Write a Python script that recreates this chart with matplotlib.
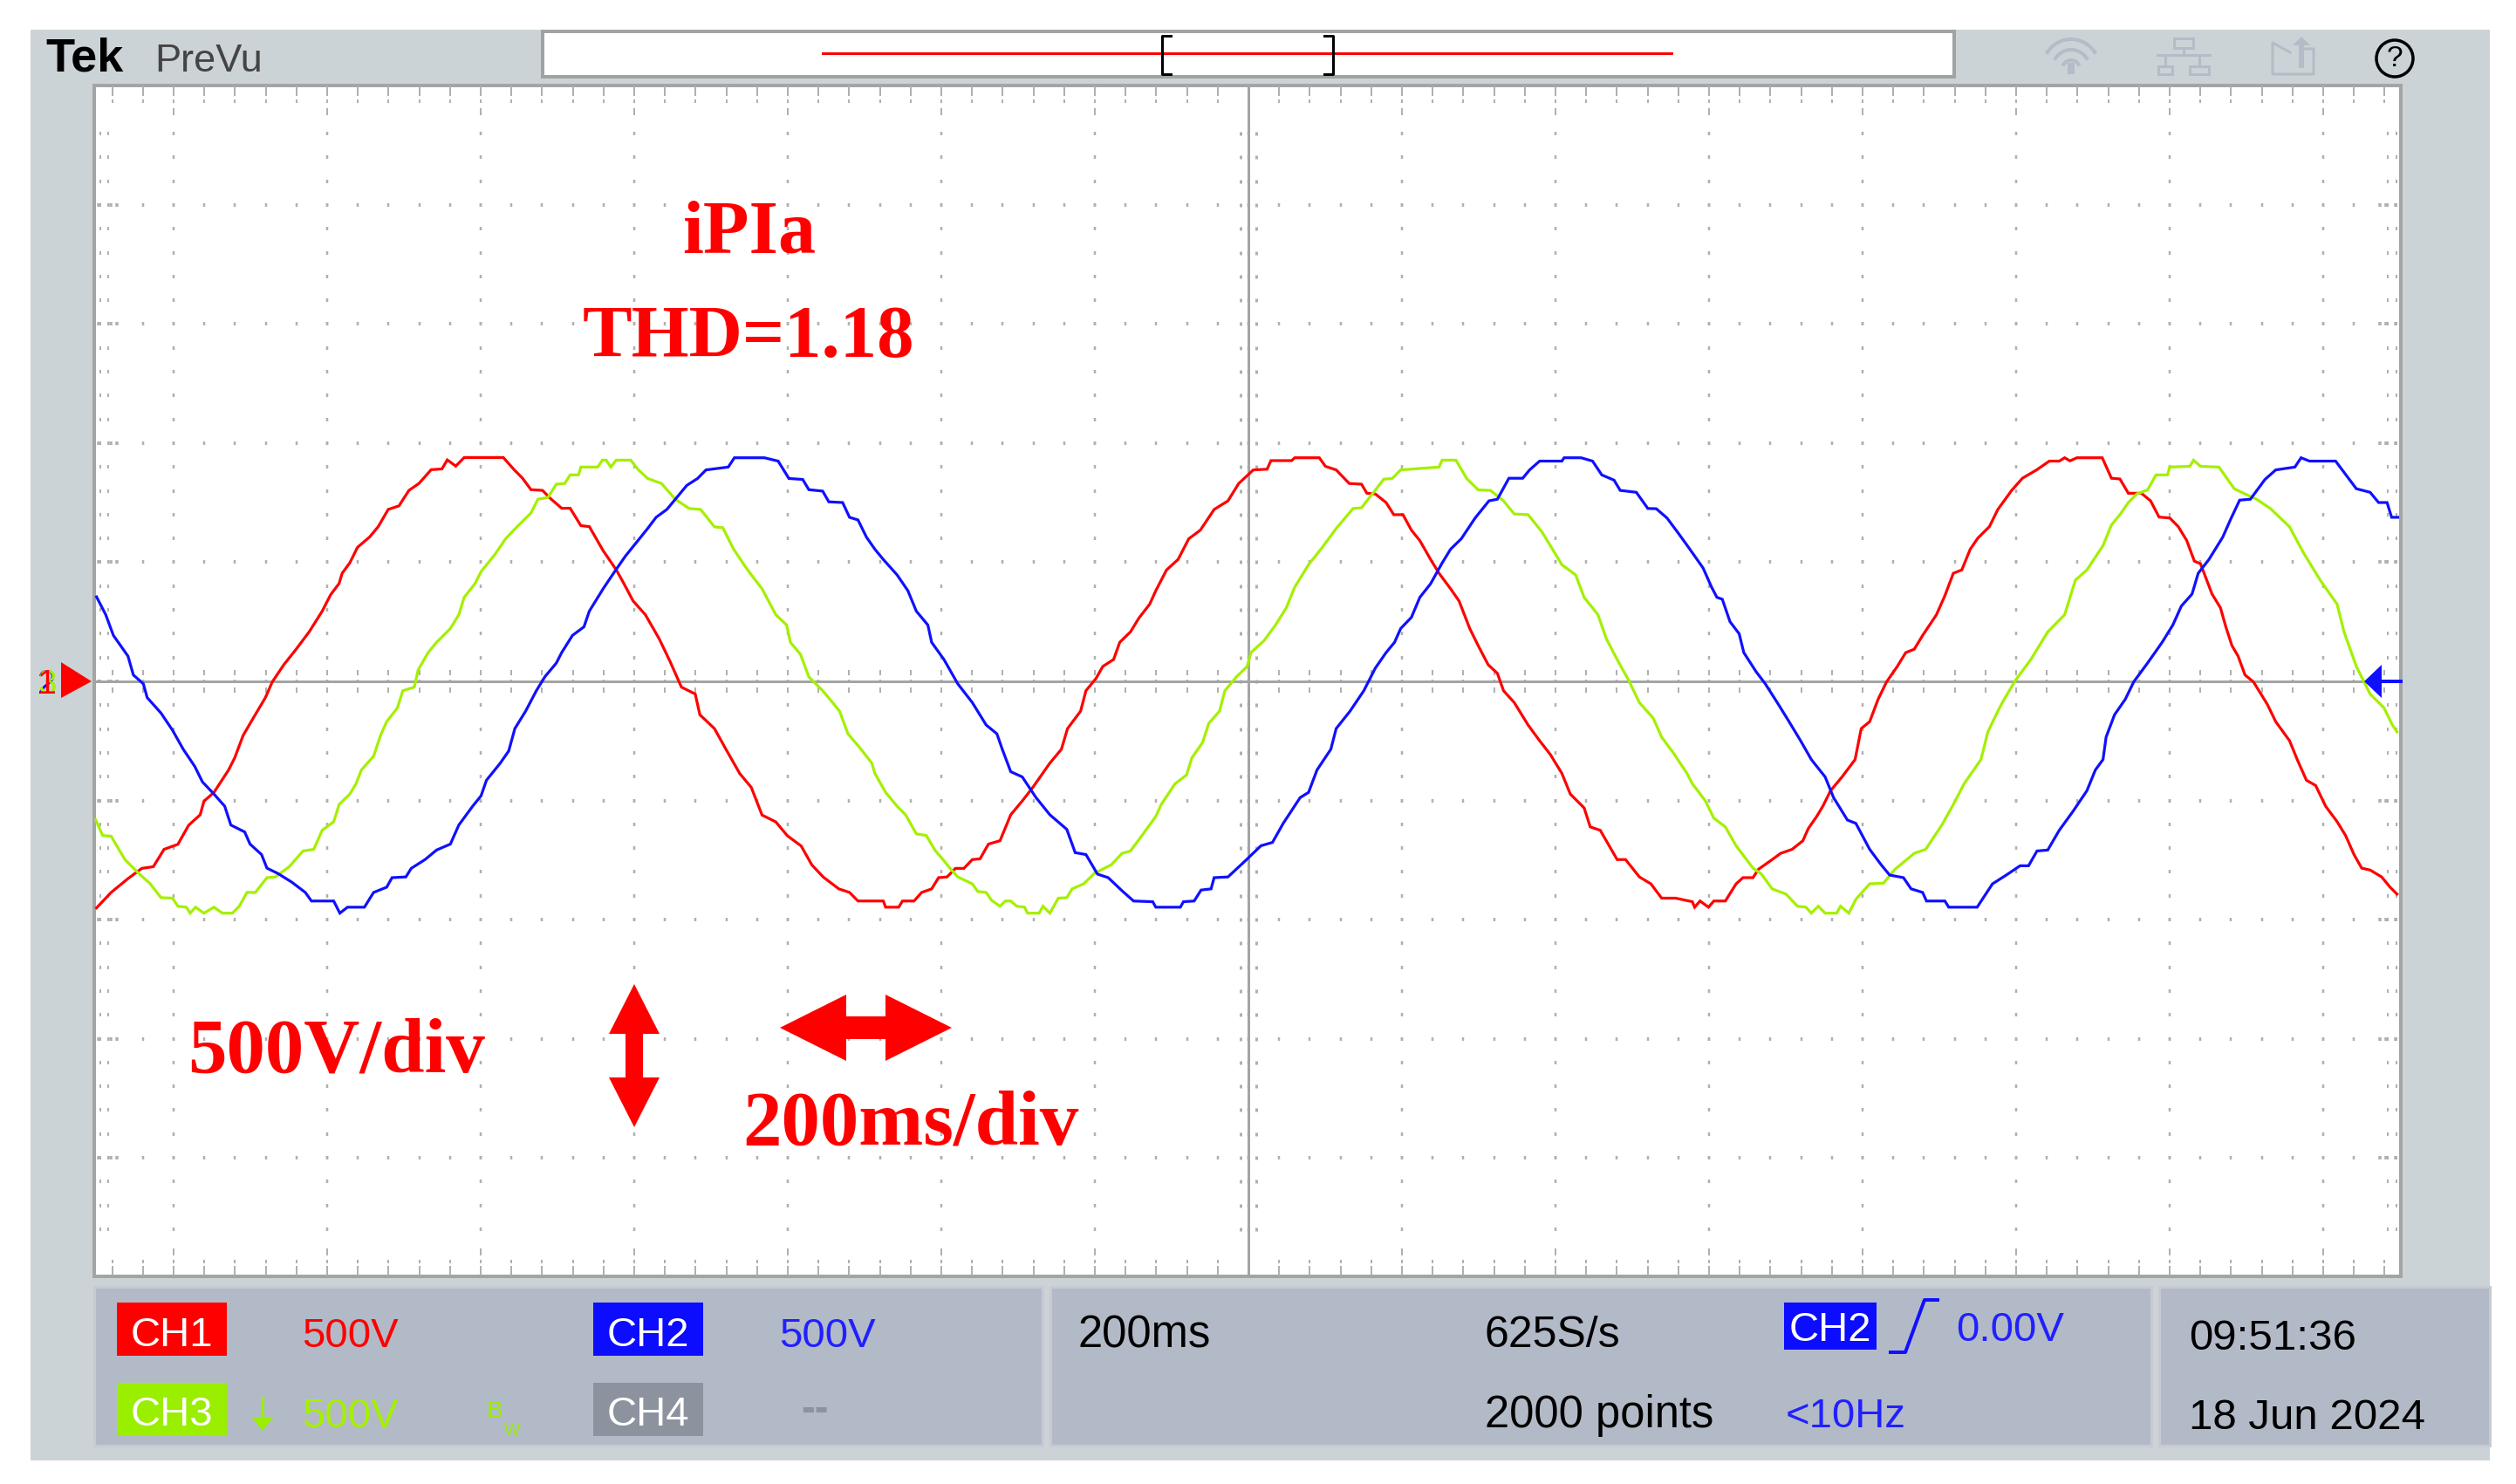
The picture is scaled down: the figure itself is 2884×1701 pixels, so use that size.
"""Tek oscilloscope screen: three phase iPIa traces with the instrument chrome."""

import matplotlib

matplotlib.use("Agg")
import matplotlib.pyplot as plt
import numpy as np
from matplotlib.patches import Circle, Polygon, Rectangle

W, H = 2884, 1701
OUT = "out.png"

# traces: time in ms from screen centre, level in volts
RED_T = [-1500, -1481, -1459, -1441, -1426, -1412, -1394, -1380, -1365, -1360, -1347, -1328, -1320, -1309, -1296, -1280,
         -1271, -1256, -1240, -1223, -1206, -1195, -1184, -1180, -1170, -1160, -1144, -1133, -1120, -1106, -1093, -1080,
         -1064, -1050, -1043, -1032, -1021, -970, -956, -945, -934, -919, -908, -894, -883, -869, -858, -840, -823, -813,
         -801, -785, -767, -753, -738, -720, -714, -695, -680, -662, -647, -633, -615, -600, -582, -568, -553, -533, -519,
         -508, -475, -472, -455, -450, -435, -425, -412, -403, -392, -381, -370, -359, -349, -338, -323, -309, -294, -280,
         -258, -243, -235, -218, -211, -198, -189, -175, -167, -153, -142, -128, -120, -106, -91, -77, -62, -44, -26, -12,
         7, 25, 30, 57, 61, 93, 101, 115, 132, 148, 155, 166, 180, 190, 202, 213, 224, 238, 249, 264, 275, 289, 300, 313,
         325, 333, 347, 365, 380, 394, 409, 420, 438, 446, 459, 481, 492, 510, 525, 539, 557, 579, 582, 589, 600, 607, 622,
         636, 645, 658, 665, 683, 694, 709, 723, 730, 741, 749, 759, 774, 791, 799, 810, 821, 832, 846, 857, 868, 879, 897,
         908, 919, 930, 941, 951, 966, 977, 995, 1009, 1028, 1044, 1057, 1064, 1071, 1080, 1113, 1125, 1136, 1147, 1164,
         1176, 1187, 1201, 1212, 1223, 1233, 1241, 1256, 1267, 1274, 1282, 1290, 1299, 1310, 1328, 1339, 1357, 1367, 1379,
         1391, 1404, 1419, 1430, 1441, 1451, 1462, 1477, 1488, 1497]
RED_V = [-953, -888, -830, -787, -780, -707, -686, -606, -562, -505, -468, -374, -323, -229, -157, -70,
         -4, 68, 133, 206, 293, 362, 409, 452, 496, 561, 605, 648, 720, 735, 800, 829,
         887, 890, 928, 902, 938, 938, 887, 851, 803, 800, 764, 725, 725, 652, 648, 547, 467, 409,
         336, 278, 177, 83, -26, -55, -142, -200, -287, -389, -447, -563, -592, -650, -693, -773, -824, -873, -888,
         -924, -924, -950, -950, -924, -924, -888, -873, -826, -823, -787, -787, -750, -747, -685, -671, -562, -504, -446,
         -345, -287, -200, -127, -41, 10, 61, 90, 162, 206, 264, 322, 379, 466, 510, 597, 633, 720, 756, 829,
         886, 889, 925, 925, 937, 937, 901, 886, 829, 826, 788, 785, 749, 698, 698, 633, 589, 510, 452, 387, 336, 220, 148, 68,
         32, -41, -91, -185, -251, -309, -388, -475, -533, -613, -627, -750, -750, -823, -852, -912, -912, -927, -950, -924, -950, -924, -924,
         -852, -826, -826, -791, -750, -724, -707, -671, -620, -569, -526, -461, -403, -330, -200, -171, -77, -4, 61, 119, 133, 191, 278,
         358, 452, 466, 553, 600, 648, 720, 800, 851, 887, 923, 923, 937, 924, 937, 937, 851, 848, 788, 788,
         756, 688, 684, 648, 590, 503, 492, 365, 307, 227, 148, 104, 25, -4, -98, -171, -251, -330, -417,
         -439, -526, -591, -649, -729, -786, -794, -823, -866, -895]

BLUE_T = [-1500, -1488, -1478, -1459, -1452, -1439, -1434, -1416, -1401, -1387, -1372, -1362, -1347, -1333, -1325, -1307,
          -1300, -1285, -1278, -1264, -1246, -1228, -1220, -1191, -1183, -1173, -1151, -1139, -1122, -1115, -1097, -1090,
          -1072, -1057, -1039, -1028, -1010, -999, -992, -974, -963, -955, -941, -927, -916, -901, -894, -880, -865, -858,
          -840, -825, -811, -800, -782, -771, -757, -746, -731, -717, -706, -677, -669, -630, -612, -598, -580, -572, -554,
          -546, -528, -519, -508, -497, -486, -475, -457, -443, -432, -417, -412, -396, -378, -359, -341, -327, -320, -309,
          -294, -276, -258, -236, -225, -211, -196, -182, -164, -149, -124, -120, -88, -84, -70, -61, -48, -44, -26, -4,
          17, 32, 46, 68, 79, 90, 108, 115, 133, 151, 166, 180, 191, 199, 213, 224, 238, 253, 264, 278, 296, 314, 325, 340,
          358, 367, 380, 409, 412, 434, 449, 461, 477, 485, 506, 521, 532, 546, 561, 574, 593, 604, 611, 618, 628, 640, 646,
          662, 674, 691, 705, 720, 734, 752, 763, 781, 792, 810, 825, 836, 854, 864, 879, 884, 908, 913, 950, 970, 988, 1006,
          1017, 1028, 1042, 1057, 1075, 1093, 1104, 1114, 1118, 1129, 1143, 1154, 1172, 1191, 1205, 1216, 1230, 1238, 1252,
          1270, 1281, 1292, 1306, 1325, 1339, 1364, 1372, 1383, 1417, 1444, 1462, 1473, 1484, 1490, 1498]
BLUE_V = [353, 278, 191, 104, 25, -12, -70, -135, -207, -287, -359, -424, -475, -526, -605, -634,
          -685, -729, -786, -808, -844, -888, -924, -924, -975, -950, -950, -888, -866, -826, -823, -787,
          -750, -710, -685, -605, -526, -482, -417, -345, -294, -200, -127, -41, 17, 75, 119, 191, 227, 293,
          387, 459, 524, 568, 640, 687, 720, 763, 821, 850, 886, 898, 937, 937, 923, 850, 846, 803, 797,
          752, 749, 687, 676, 604, 553, 510, 445, 379, 293, 235, 162, 90, -12, -91, -185, -222, -287, -381,
          -403, -490, -562, -623, -721, -729, -811, -826, -881, -924, -927, -950, -950, -927, -924, -878, -873, -826, -823, -757,
          -692, -678, -598, -490, -468, -374, -287, -200, -127, -41, 54, 119, 162, 220, 267, 351, 408, 495, 553, 597, 684, 756, 763, 851,
          851, 886, 923, 923, 937, 937, 923, 865, 843, 800, 792, 724, 723, 684, 619, 561, 474, 394, 351, 343, 249, 198, 119,
          39, -12, -98, -171, -251, -330, -403, -490, -584, -598, -707, -772, -815, -826, -873, -888, -924, -924, -950, -950, -852, -815, -776,
          -776, -714, -710, -627, -547, -461, -374, -330, -236, -142, -77, -4, 75, 162, 235, 314, 365, 452, 510,
          604, 684, 759, 763, 846, 886, 898, 937, 923, 923, 807, 792, 749, 749, 687, 687]

GREEN_T = [-1501, -1492, -1481, -1463, -1445, -1430, -1416, -1401, -1394, -1383, -1378, -1371, -1360, -1347, -1336, -1323,
           -1314, -1304, -1293, -1278, -1267, -1249, -1231, -1217, -1206, -1191, -1184, -1170, -1162, -1155, -1139, -1130,
           -1122, -1108, -1101, -1086, -1081, -1068, -1057, -1039, -1028, -1021, -1007, -999, -981, -967, -952, -934, -925,
           -912, -901, -890, -883, -872, -869, -847, -841, -836, -830, -823, -804, -794, -782, -764, -746, -728, -713, -695,
           -684, -670, -655, -645, -633, -615, -601, -596, -583, -572, -554, -541, -532, -521, -504, -490, -486, -472, -457,
           -446, -432, -419, -407, -399, -388, -378, -359, -352, -341, -334, -323, -316, -309, -301, -291, -287, -272, -267,
           -258, -247, -236, -229, -214, -200, -178, -164, -153, -138, -120, -113, -95, -80, -73, -59, -51, -37, -30, -15, -1,
           4, 21, 36, 50, 61, 79, 97, 115, 137, 148, 162, 177, 188, 199, 249, 253, 271, 285, 300, 316, 333, 347, 365, 383, 394,
           409, 427, 438, 456, 467, 481, 496, 510, 528, 539, 554, 572, 579, 586, 596, 607, 622, 636, 658, 669, 683, 701, 716,
           727, 734, 743, 752, 767, 772, 783, 792, 810, 828, 843, 868, 883, 904, 919, 933, 955, 964, 977, 984, 1000, 1020,
           1042, 1064, 1078, 1093, 1114, 1125, 1136, 1147, 1158, 1172, 1183, 1198, 1201, 1227, 1232, 1241, 1265, 1285, 1299,
           1314, 1332, 1357, 1375, 1397, 1419, 1428, 1444, 1462, 1480, 1491, 1497]
GREEN_V = [-584, -649, -652, -750, -808, -852, -910, -912, -946, -950, -975, -950, -975, -950, -975, -975,
           -946, -888, -888, -826, -823, -780, -714, -707, -627, -591, -519, -475, -432, -374, -316, -229,
           -171, -113, -41, -26, 46, 119, 162, 220, 278, 351, 408, 459, 531, 597, 648, 705, 763,
           770, 826, 829, 865, 865, 898, 898, 927, 927, 898, 927, 927, 886, 850, 829, 763, 724, 720, 647,
           643, 553, 481, 437, 387, 278, 235, 162, 112, 17, -41, -91, -127, -222, -287, -345, -388, -468, -526,
           -562, -642, -649, -714, -743, -787, -823, -852, -884, -888, -921, -946, -924, -924, -946, -950, -975, -975, -946,
           -975, -912, -910, -873, -852, -808, -772, -724, -714, -649, -569, -519, -432, -395, -323, -258, -178, -127, -41, 17, 61,
           119, 169, 235, 307, 394, 488, 561, 640, 724, 727, 785, 847, 850, 886, 898, 927, 927, 850, 802, 800, 756, 701, 698, 626, 568,
           488, 445, 351, 278, 177, 90, 3, -91, -156, -236, -301, -388, -432, -461, -504, -576, -613, -692, -786, -811, -873, -895, -946,
           -950, -975, -946, -975, -975, -946, -975, -917, -852, -849, -791, -724, -707, -605, -519, -432, -330, -214, -127, -84, 3, 90,
           206, 278, 423, 466, 568, 655, 698, 749, 785, 802, 865, 865, 898, 901, 927, 901, 898, 807, 785,
           763, 724, 647, 539, 423, 322, 206, 61, -55, -113, -185, -214]

TRACE_COLORS = ["#ff0000", "#a4f000", "#1010ff"]
XLIM = (-1503, 1502)
YLIM = (-2500, 2500)

# screen geometry, in picture pixels
X0, Y0, DX, DY = 1431, 781, 176, 136.5
LEFT, RIGHT, TOP, BOTTOM = 108, 2752, 98, 1463
GREY = "#a3a5a5"
DOT = "#b0b0b0"
PANEL = "#ccd3d6"
STRIP = "#b3bac7"
STRIP_EDGE = "#c7cad2"
ICON = "#b5bbc7"
LW = 72 / 100


def dots(ax, xs, ys, w=3, h=5, color=DOT):
    xs, ys = np.atleast_1d(xs), np.atleast_1d(ys)
    xx, yy = np.meshgrid(xs, ys)
    ax.vlines(xx.ravel(), yy.ravel() - h / 2, yy.ravel() + h / 2, color=color, lw=w * LW, zorder=2)


def draw_grid(ax):
    minor_x = X0 + np.arange(-37, 38) * DX / 5
    minor_y = Y0 + np.arange(-24, 25) * DY / 5
    major_x = X0 + np.arange(-7, 8) * DX
    major_y = Y0 + np.arange(-4, 5) * DY
    inner_y = minor_y[(minor_y > TOP + 40) & (minor_y < BOTTOM - 40)]
    inner_x = minor_x[(minor_x > LEFT + 30) & (minor_x < RIGHT - 30)]

    dots(ax, major_x, inner_y, w=2.5, h=4)
    dots(ax, inner_x, major_y, w=2.5, h=4)

    # edge rulers
    dots(ax, minor_x, TOP + 7, w=2, h=11)
    dots(ax, minor_x, TOP + 18, w=2, h=4)
    dots(ax, major_x, TOP + 30, w=2, h=8)
    dots(ax, minor_x, BOTTOM - 7, w=2, h=11)
    dots(ax, minor_x, BOTTOM - 17, w=2, h=4)
    dots(ax, major_x, BOTTOM - 28, w=2, h=8)
    for x in (LEFT + 7, LEFT + 16, RIGHT - 15, RIGHT - 5):
        dots(ax, x, minor_y[1:-1], w=2, h=4)
    for x in (LEFT + 5, LEFT + 19, LEFT + 26, RIGHT - 24, RIGHT - 17, RIGHT - 6):
        dots(ax, x, major_y, w=3.5, h=4)

    # centre crosshair with its own tick dots
    dots(ax, minor_x, Y0 - 10, w=2, h=6)
    dots(ax, minor_x, Y0 + 10, w=2, h=6)
    for off in (-9, 9):
        dots(ax, X0 + off, minor_y[1:-1], w=3, h=4)
    ax.hlines(Y0, LEFT, RIGHT, color=GREY, lw=3 * LW, zorder=2)
    ax.vlines(X0, TOP, BOTTOM, color=GREY, lw=3 * LW, zorder=2)


def label(ax, x, y, s, color="black", size=34, ha="left", **kw):
    ax.text(x, y, s, color=color, fontsize=size, ha=ha, va="baseline", family="Liberation Sans", zorder=5, **kw)


def box(ax, x0, y0, x1, y1, face, edge="none", lw=0, zorder=1):
    ax.add_patch(Rectangle((x0, y0), x1 - x0, y1 - y0, facecolor=face, edgecolor=edge, lw=lw * LW, zorder=zorder))


def draw_icons(ax):
    # wifi
    for r in (11, 23, 35):
        th = np.radians(np.linspace(215, 325, 30))
        ax.plot(2374 + r * 0.95 * np.cos(th), 80 + r * np.sin(th), color=ICON, lw=4 * LW, zorder=3)
    box(ax, 2370, 72, 2378, 85, ICON, zorder=3)
    # network
    for x0, y0, x1, y1 in [(2492, 44, 2514, 55), (2474, 76, 2490, 85), (2510, 76, 2532, 85)]:
        box(ax, x0, y0, x1, y1, "none", ICON, 3, zorder=3)
    ax.plot([2503, 2503], [55, 63], color=ICON, lw=3 * LW)
    ax.plot([2473, 2533], [63, 63], color=ICON, lw=3 * LW)
    ax.plot([2482, 2482], [63, 76], color=ICON, lw=3 * LW)
    ax.plot([2521, 2521], [63, 76], color=ICON, lw=3 * LW)
    # export
    ax.plot([2625, 2605, 2605, 2652, 2652, 2640], [60, 49, 85, 85, 56, 56], color=ICON, lw=3 * LW)
    ax.plot([2638, 2638], [75, 48], color=ICON, lw=6 * LW)
    ax.add_patch(Polygon([[2628, 52], [2638, 42], [2648, 52]], facecolor=ICON, edgecolor="none"))
    # help
    ax.add_patch(Circle((2745, 67), 21, facecolor="none", edgecolor="black", lw=3.5 * LW, zorder=3))
    ax.text(2745, 68, "?", fontsize=24, ha="center", va="center", family="Liberation Sans", zorder=4)


def draw_chrome(ax):
    box(ax, 35, 34, 2854, 1674, PANEL, zorder=0)
    box(ax, LEFT, TOP, RIGHT, BOTTOM, "white", GREY, 4, zorder=1)

    # record view strip
    box(ax, 622, 36, 2240, 88, "white", "#a0a3a3", 4, zorder=1)
    ax.plot([943, 1916], [61, 61], color="#ff0000", lw=3 * LW, zorder=3)
    ax.plot([1342, 1332, 1332, 1342], [41, 41, 85, 85], color="black", lw=3 * LW, zorder=4)
    ax.plot([1518, 1528, 1528, 1518], [41, 41, 85, 85], color="black", lw=3 * LW, zorder=4)

    label(ax, 52, 82, "Tek", weight="bold", size=39)
    label(ax, 177, 82, "PreVu", color="#444444", size=32.5)
    draw_icons(ax)

    # readout strip
    for x0, x1 in [(108, 1195), (1204, 2466), (2475, 2854)]:
        box(ax, x0, 1475, x1, 1657, STRIP, STRIP_EDGE, 3, zorder=1)

    for x0, y0, face, name, base in [
        (134, 1493, "#ff0000", "CH1", 1543),
        (680, 1493, "#0c0cff", "CH2", 1543),
        (134, 1585, "#9aee00", "CH3", 1634),
        (680, 1585, "#8c939f", "CH4", 1634),
    ]:
        box(ax, x0, y0, x0 + 126, y0 + 61, face, zorder=2)
        label(ax, x0 + 63, base, name, color="white", ha="center")

    label(ax, 346, 1544, "500V", color="#ff0000")
    label(ax, 893, 1544, "500V", color="#2020ff")
    label(ax, 346, 1636, "500V", color="#a4f000")
    label(ax, 558, 1625, "B", color="#9aee00", size=20)
    label(ax, 578, 1645, "W", color="#9aee00", size=14)
    label(ax, 918, 1628, "--", color="#8c939f", weight="bold")
    ax.plot([301, 301], [1602, 1630], color="#9aee00", lw=3 * LW, zorder=3)
    ax.add_patch(Polygon([[289, 1625], [313, 1625], [301, 1640]], facecolor="#9aee00", edgecolor="none", zorder=3))

    label(ax, 1236, 1544, "200ms", size=36.5)
    label(ax, 1702, 1544, "625S/s", size=36)
    label(ax, 1702, 1636, "2000 points", size=36.5)

    box(ax, 2045, 1493, 2151, 1547, "#0c0cff", zorder=2)
    label(ax, 2098, 1537, "CH2", color="white", ha="center")
    ax.plot([2167, 2184, 2206, 2221], [1550, 1550, 1490, 1490], color="#1010ff", lw=4 * LW, zorder=3)
    label(ax, 2242, 1537, "0.00V", color="#2020ff")
    label(ax, 2047, 1636, "<10Hz", color="#2020ff")

    label(ax, 2509, 1547, "09:51:36", size=35.5)
    label(ax, 2509, 1638, "18 Jun 2024", size=35.5)


def draw_annotations(ax):
    red = "#ff0000"
    for x, y, s, size in [
        (782, 290, "iPIa", 62),
        (668, 409, "THD=1.18", 61),
        (215, 1228, "500V/div", 64),
        (851, 1311, "200ms/div", 64),
    ]:
        ax.text(x, y, s, color=red, fontsize=size, weight="bold", family="Liberation Serif", ha="left", va="baseline")

    ax.add_patch(Polygon(
        [[727, 1128], [756, 1185], [737, 1185], [737, 1235], [756, 1235], [727, 1292],
         [698, 1235], [717, 1235], [717, 1185], [698, 1185]], facecolor=red, edgecolor="none"))
    ax.add_patch(Polygon(
        [[894, 1178], [970, 1140], [970, 1165], [1015, 1165], [1015, 1140], [1091, 1178],
         [1015, 1216], [1015, 1191], [970, 1191], [970, 1216]], facecolor=red, edgecolor="none"))

    # channel ground markers on the left, trigger marker on the right
    for s, color in [("2", "#1010ff"), ("3", "#a4f000"), ("1", "#ff0000")]:
        ax.text(54, 795, s, color=color, fontsize=28, ha="center", va="baseline", family="Liberation Sans")
    ax.add_patch(Polygon([[70, 759], [105, 781], [70, 800]], facecolor=red, edgecolor="none"))
    ax.add_patch(Polygon([[2710, 781], [2730, 762], [2730, 800]], facecolor="#1010ff", edgecolor="none"))
    ax.plot([2725, RIGHT], [781, 781], color="#1010ff", lw=4 * LW)


def main():
    fig = plt.figure(figsize=(W / 100, H / 100), dpi=100, facecolor="white")

    base = fig.add_axes([0, 0, 1, 1], zorder=0)
    base.set_xlim(0, W)
    base.set_ylim(H, 0)
    base.axis("off")
    draw_chrome(base)
    draw_grid(base)

    scope = fig.add_axes([LEFT / W, 1 - BOTTOM / H, (RIGHT - LEFT) / W, (BOTTOM - TOP) / H], zorder=1)
    scope.set_xlim(*XLIM)
    scope.set_ylim(*YLIM)
    scope.axis("off")
    traces = [(RED_T, RED_V), (GREEN_T, GREEN_V), (BLUE_T, BLUE_V)]
    for (t, v), color in zip(traces, TRACE_COLORS):
        scope.plot(t, v, color=color, lw=2.3, solid_joinstyle="miter")

    top = fig.add_axes([0, 0, 1, 1], zorder=2)
    top.set_xlim(0, W)
    top.set_ylim(H, 0)
    top.axis("off")
    draw_annotations(top)

    fig.savefig(OUT, dpi=100)


if __name__ == "__main__":
    main()
